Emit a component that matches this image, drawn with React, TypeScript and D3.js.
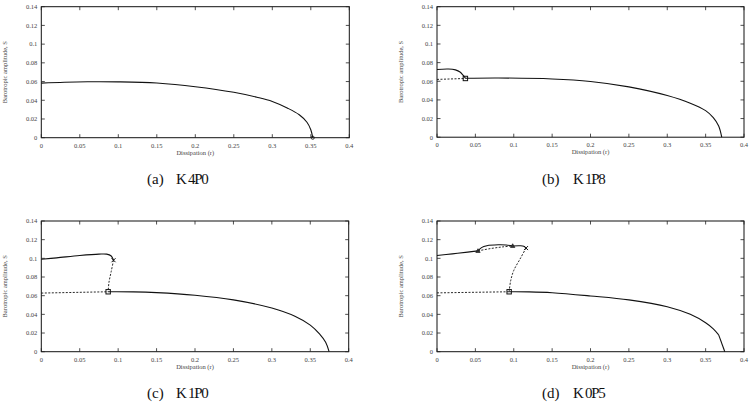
import React from "react";
import * as d3 from "d3";

type Pt = [number, number];

// axis ticks shared by all four panels
const xTicks = [0, 0.05, 0.1, 0.15, 0.2, 0.25, 0.3, 0.35, 0.4];
const yTicks = [0, 0.02, 0.04, 0.06, 0.08, 0.1, 0.12, 0.14];

// (a) K = 4.0
const aMain: Pt[] = [[0, 0.0583], [0.03, 0.0593], [0.06, 0.0598], [0.1, 0.0597], [0.15, 0.0584], [0.2, 0.0545], [0.25, 0.0485], [0.28, 0.0432], [0.3, 0.0387], [0.32, 0.0315], [0.335, 0.0245], [0.345, 0.0165], [0.35, 0.0085], [0.3525, 0]];

// (b) K = 1.8
const bUpper: Pt[] = [[0, 0.0727], [0.015, 0.0732], [0.024, 0.0722], [0.03, 0.07], [0.034, 0.0665], [0.037, 0.0632]];
const bDashed: Pt[] = [[0, 0.062], [0.037, 0.063]];
const bMain: Pt[] = [[0.037, 0.0632], [0.08, 0.0635], [0.15, 0.0625], [0.2, 0.0598], [0.25, 0.054], [0.3, 0.0447], [0.33, 0.0365], [0.35, 0.0285], [0.36, 0.021], [0.367, 0.012], [0.371, 0]];

// (c) K = 1.0
const cUpper: Pt[] = [[0, 0.099], [0.02, 0.1005], [0.05, 0.103], [0.075, 0.1045], [0.085, 0.1045], [0.091, 0.1025], [0.094, 0.098]];
const cFold: Pt[] = [[0.094, 0.098], [0.091, 0.086], [0.088, 0.074], [0.087, 0.0642]];
const cDashed: Pt[] = [[0, 0.0628], [0.087, 0.0642]];
const cMain: Pt[] = [[0.087, 0.0642], [0.12, 0.0641], [0.15, 0.0633], [0.2, 0.0605], [0.25, 0.0555], [0.3, 0.0468], [0.33, 0.038], [0.35, 0.0285], [0.362, 0.019], [0.37, 0.01], [0.3745, 0]];

// (d) K = 0.5
const dUpper: Pt[] = [[0, 0.103], [0.02, 0.1048], [0.04, 0.1067], [0.0534, 0.108]];
const dArc: Pt[] = [[0.0534, 0.108], [0.058, 0.1115], [0.065, 0.1135], [0.08, 0.1145], [0.09, 0.1143], [0.0986, 0.1133]];
const dArcTail: Pt[] = [[0.0986, 0.1133], [0.108, 0.1135], [0.113, 0.113], [0.116, 0.111]];
const dArcDashed: Pt[] = [[0.0534, 0.108], [0.07, 0.1105], [0.085, 0.1122], [0.0986, 0.1133]];
const dFold: Pt[] = [[0.116, 0.111], [0.108, 0.099], [0.1, 0.087], [0.096, 0.076], [0.094, 0.0642]];
const dDashed: Pt[] = [[0, 0.063], [0.094, 0.0642]];
const dMain: Pt[] = [[0.094, 0.0642], [0.12, 0.0641], [0.15, 0.0632], [0.2, 0.0597], [0.25, 0.0555], [0.3, 0.0482], [0.33, 0.04], [0.35, 0.031], [0.36, 0.0245], [0.367, 0.018]];
const dMainEnd: Pt[] = [[0.367, 0.018], [0.375, 0]];

type Series = { pts: Pt[]; dashed?: boolean; curve?: d3.CurveFactory };
type Marker = { at: Pt; kind: "square" | "cross" | "triangle" | "circle" };

type PanelProps = {
  x0: number; x1: number; y0: number; y1: number;
  series: Series[]; markers: Marker[];
  ylabelX: number;
  caption: { letter: string; lx: number; kx: number; baseline: number; label: string };
};

const SERIF = "'Liberation Serif', 'DejaVu Serif', serif";
const smooth = d3.curveCatmullRom.alpha(0.5);

function Panel({ x0, x1, y0, y1, series, markers, ylabelX, caption }: PanelProps) {
  const x = d3.scaleLinear().domain([0, 0.4]).range([x0, x1]);
  const y = d3.scaleLinear().domain([0, 0.14]).range([y1, y0]);
  const tl = 3.5;
  return (
    <g>
      <rect x={x0} y={y0} width={x1 - x0} height={y1 - y0} fill="none" stroke="#111" strokeWidth={1} />
      {xTicks.map((t) => (
        <g key={"x" + t}>
          <line x1={x(t)} x2={x(t)} y1={y1} y2={y1 - tl} stroke="#222" strokeWidth={0.8} />
          <line x1={x(t)} x2={x(t)} y1={y0} y2={y0 + tl} stroke="#222" strokeWidth={0.8} />
          <text x={x(t)} y={y1 + 10} fontSize={6.5} fontFamily={SERIF} fill="#444" textAnchor="middle">{String(t)}</text>
        </g>
      ))}
      {yTicks.map((t) => (
        <g key={"y" + t}>
          <line x1={x0} x2={x0 + tl} y1={y(t)} y2={y(t)} stroke="#222" strokeWidth={0.8} />
          <line x1={x1} x2={x1 - tl} y1={y(t)} y2={y(t)} stroke="#222" strokeWidth={0.8} />
          <text x={x0 - 4} y={y(t) + 2.3} fontSize={6.5} fontFamily={SERIF} fill="#444" textAnchor="end">{String(t)}</text>
        </g>
      ))}
      <text x={(x0 + x1) / 2} y={y1 + 17} fontSize={6.5} fontFamily={SERIF} fill="#444" textAnchor="middle">Dissipation (r)</text>
      <text transform={`translate(${ylabelX},${(y0 + y1) / 2}) rotate(-90)`} fontSize={6.5} fontFamily={SERIF} fill="#444" textAnchor="middle">Barotropic amplitude, S</text>
      {series.map((s, i) => {
        const line = d3.line<Pt>().x((p) => x(p[0])).y((p) => y(p[1])).curve(s.curve ?? smooth);
        return (
          <path key={i} d={line(s.pts) ?? ""} fill="none" stroke="#111" strokeWidth={s.dashed ? 0.9 : 1.1}
            strokeDasharray={s.dashed ? "2,1.5" : undefined} />
        );
      })}
      {markers.map((m, i) => {
        const cx = x(m.at[0]);
        const cy = y(m.at[1]);
        if (m.kind === "square") return <rect key={i} x={cx - 2.2} y={cy - 2.2} width={4.4} height={4.4} fill="none" stroke="#111" strokeWidth={1} />;
        if (m.kind === "circle") return <circle key={i} cx={cx} cy={cy} r={1.6} fill="none" stroke="#111" strokeWidth={0.8} />;
        if (m.kind === "triangle") return <path key={i} d={`M${cx},${cy - 2.2}L${cx + 2.2},${cy + 1.6}L${cx - 2.2},${cy + 1.6}Z`} fill="#333" stroke="#111" strokeWidth={0.6} />;
        return <path key={i} d={`M${cx - 2},${cy - 2}L${cx + 2},${cy + 2}M${cx - 2},${cy + 2}L${cx + 2},${cy - 2}`} stroke="#111" strokeWidth={1} />;
      })}
      <text x={caption.lx} y={caption.baseline} fontFamily={SERIF} fontSize={15} fill="#111">({caption.letter})</text>
      <text x={caption.kx} y={caption.baseline} fontFamily={SERIF} fontSize={15} fill="#111" letterSpacing={-1.3}>{caption.label}</text>
    </g>
  );
}

export default function App() {
  return (
    <svg width={752} height={402} style={{ position: "absolute", left: 0, top: 0, background: "#fff" }}>
      <rect width={752} height={402} fill="#fff" />
      <Panel x0={41.3} x1={349.3} y0={6.7} y1={137.7} ylabelX={7}
        series={[{ pts: aMain }]}
        markers={[{ at: [0.3525, 0], kind: "circle" }]}
        caption={{ letter: "a", lx: 147, kx: 176, baseline: 184, label: "K 4Ρ0" }} />
      <Panel x0={437} x1={744} y0={6.7} y1={137.2} ylabelX={403}
        series={[{ pts: bUpper }, { pts: bDashed, dashed: true }, { pts: bMain }]}
        markers={[{ at: [0.037, 0.063], kind: "square" }]}
        caption={{ letter: "b", lx: 542, kx: 573, baseline: 184, label: "K 1Ρ8" }} />
      <Panel x0={41.3} x1={348.7} y0={221} y1={351.7} ylabelX={7}
        series={[{ pts: cUpper }, { pts: cFold, dashed: true }, { pts: cDashed, dashed: true }, { pts: cMain }]}
        markers={[{ at: [0.087, 0.0642], kind: "square" }, { at: [0.094, 0.098], kind: "cross" }]}
        caption={{ letter: "c", lx: 147, kx: 176, baseline: 398, label: "K 1Ρ0" }} />
      <Panel x0={437} x1={744} y0={221} y1={351.7} ylabelX={403}
        series={[
          { pts: dUpper },
          { pts: dArc },
          { pts: dArcTail },
          { pts: dArcDashed, dashed: true },
          { pts: dFold, dashed: true },
          { pts: dDashed, dashed: true },
          { pts: dMain },
          { pts: dMainEnd, curve: d3.curveLinear },
        ]}
        markers={[
          { at: [0.094, 0.0642], kind: "square" },
          { at: [0.0534, 0.108], kind: "triangle" },
          { at: [0.0986, 0.1133], kind: "triangle" },
          { at: [0.116, 0.111], kind: "cross" },
        ]}
        caption={{ letter: "d", lx: 542, kx: 573, baseline: 398, label: "K 0Ρ5" }} />
    </svg>
  );
}
